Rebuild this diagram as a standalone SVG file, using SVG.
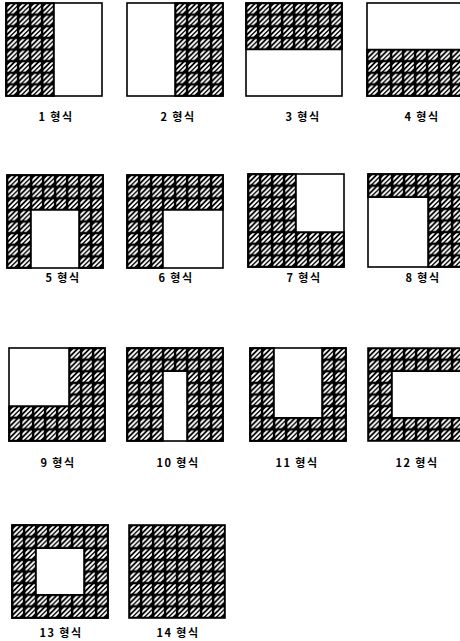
<svg xmlns="http://www.w3.org/2000/svg" width="460" height="641" viewBox="0 0 460 641">
<style>
.frame{fill:#fff;stroke:#000;stroke-width:1.6}
.hatch{fill:url(#h);stroke:#000;stroke-width:1.6}
.lbl{font-family:"Noto Sans CJK KR","Noto Sans",sans-serif;font-size:11px;font-weight:bold;text-anchor:middle;letter-spacing:1.5px;fill:#000}
</style>
<defs>
<clipPath id="cell"><rect x="1.3" y="1.3" width="9.6" height="9.1"/></clipPath>
<pattern id="h" patternUnits="userSpaceOnUse" width="12" height="11.625">
<rect width="12" height="11.625" fill="#000"/>
<path clip-path="url(#cell)" d="M0,6.8 L6.8,0 M0,12 L12,0 M4.6,12 L12,4.6" stroke="#fff" stroke-width="1.9"/>
</pattern>
</defs>
<rect width="460" height="641" fill="#fff"/>

<g id="s1" transform="translate(6,3)">
<rect class="frame" width="96" height="93"/>
<path class="hatch" d="M0,0H48V93H0Z"/>
</g>
<g id="s2" transform="translate(127,3)">
<rect class="frame" width="96" height="93"/>
<path class="hatch" d="M48,0H96V93H48Z"/>
</g>
<g id="s3" transform="translate(246,3)">
<rect class="frame" width="96" height="93"/>
<path class="hatch" d="M0,0H96V46.5H0Z"/>
</g>
<g id="s4" transform="translate(367,3)">
<rect class="frame" width="96" height="93"/>
<path class="hatch" d="M0,46.5H96V93H0Z"/>
</g>

<g id="s5" transform="translate(7,175)">
<rect class="frame" width="96" height="93"/>
<path class="hatch" d="M0,0H96V93H72V34.875H24V93H0Z"/>
</g>
<g id="s6" transform="translate(127,175)">
<rect class="frame" width="96" height="93"/>
<path class="hatch" d="M0,0H96V34.875H36V93H0Z"/>
</g>
<g id="s7" transform="translate(248,174)">
<rect class="frame" width="96" height="93"/>
<path class="hatch" d="M0,0H48V58.125H96V93H0Z"/>
</g>
<g id="s8" transform="translate(368,174)">
<rect class="frame" width="96" height="93"/>
<path class="hatch" d="M0,0H96V93H60V23.25H0Z"/>
</g>

<g id="s9" transform="translate(9,348)">
<rect class="frame" width="96" height="93"/>
<path class="hatch" d="M60,0H96V93H0V58.125H60Z"/>
</g>
<g id="s10" transform="translate(127,348)">
<rect class="frame" width="96" height="93"/>
<path class="hatch" d="M0,0H96V93H60V23.25H36V93H0Z"/>
</g>
<g id="s11" transform="translate(250,348)">
<rect class="frame" width="96" height="93"/>
<path class="hatch" d="M0,0H24V69.75H72V0H96V93H0Z"/>
</g>
<g id="s12" transform="translate(368,348)">
<path class="hatch" d="M0,0H96V23.25H24V69.75H96V93H0Z"/>
</g>

<g id="s13" transform="translate(12,525)">
<rect class="frame" width="96" height="93"/>
<path class="hatch" fill-rule="evenodd" d="M0,0H96V93H0Z M24,23.25V69.75H72V23.25Z"/>
</g>
<g id="s14" transform="translate(129,525)">
<rect class="hatch" width="96" height="93"/>
</g>

<g id="labels">
<text class="lbl" x="56" y="121">1 형식</text>
<text class="lbl" x="178" y="121">2 형식</text>
<text class="lbl" x="303" y="121">3 형식</text>
<text class="lbl" x="422" y="121">4 형식</text>
<text class="lbl" x="63" y="282">5 형식</text>
<text class="lbl" x="176" y="282">6 형식</text>
<text class="lbl" x="304" y="282">7 형식</text>
<text class="lbl" x="423" y="282">8 형식</text>
<text class="lbl" x="58" y="467">9 형식</text>
<text class="lbl" x="178" y="467">10 형식</text>
<text class="lbl" x="297" y="467">11 형식</text>
<text class="lbl" x="417" y="467">12 형식</text>
<text class="lbl" x="61" y="637">13 형식</text>
<text class="lbl" x="178" y="637">14 형식</text>
</g>
</svg>
